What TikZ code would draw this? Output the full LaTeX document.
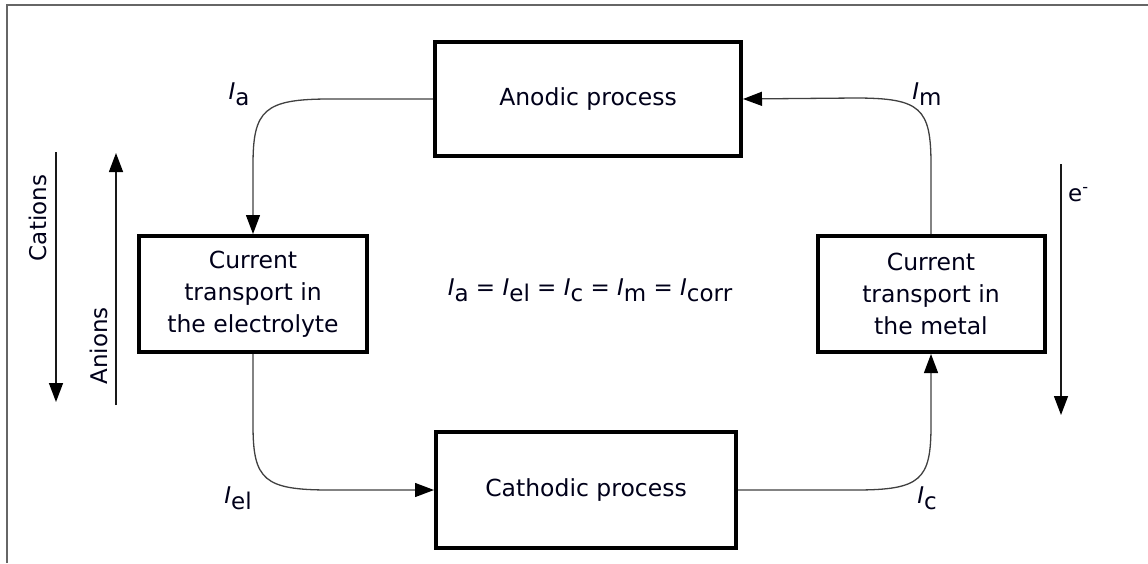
\documentclass[tikz,border=0pt]{standalone}
\usepackage{fontspec}
\setmainfont{DejaVu Sans}
\usetikzlibrary{arrows.meta}
\newcommand{\Isub}[1]{\textit{I}\raisebox{-0.5ex}{#1}}
\tikzset{
  box/.style={draw=black, line width=4pt, align=center, inner sep=0pt,
    font=\fontsize{23.5}{32}\selectfont, text=black!90!blue},
  lbl/.style={font=\fontsize{23}{26}\selectfont, text=black!90!blue, inner sep=0pt},
  conn/.style={draw=black!75, line width=1.3pt, -{Triangle[length=19pt,width=14pt,color=black]}},
  ionarrow/.style={draw=black!90, line width=1.4pt, -{Triangle[length=19pt,width=14pt,color=black]}}
}
\begin{document}
\begin{tikzpicture}[x=1pt,y=-1pt]
\useasboundingbox (0,0) rectangle (1148,563);
\draw[black!60, line width=1.6pt] (7,563) -- (7,5) -- (1148,5);

\node[box, minimum width=306, minimum height=114] (an) at (588,99) {Anodic process};
\node[box, minimum width=228, minimum height=116] (el) at (253,294) {Current\\transport in\\the electrolyte};
\node[box, minimum width=227, minimum height=116] (me) at (931,294) {Current\\transport in\\the metal};
\node[box, minimum width=300, minimum height=116] (ca) at (586,490) {Cathodic process};

\node[lbl] (eq) at (590,290) {\Isub{a} = \Isub{el} = \Isub{c} = \Isub{m} = \Isub{corr}};

\node[lbl] (la) at (239,94) {\Isub{a}};
\node[lbl] (lm) at (927,94) {\Isub{m}};
\node[lbl] (lel) at (238,498) {\Isub{el}};
\node[lbl] (lc) at (927,498) {\Isub{c}};

\draw[conn] (an.west) -- (330,99) .. controls (264,99) and (253,110) .. (253,165) -- (el.north);
\draw[conn] (el.south) -- (253,425) .. controls (253,480) and (264,490) .. (330,490) -- (ca.west);
\draw[conn] (ca.east) -- (855,490) .. controls (921,490) and (931,480) .. (931,425) -- (me.south);
\draw[conn] (me.north) -- (931,165) .. controls (931,108) and (921,98) .. (855,98) -- (an.east);

\coordinate (c1) at (56,152);
\coordinate (c2) at (56,402);
\draw[ionarrow] (c1) -- (c2);
\node[lbl, rotate=90] (cat) at (38,218) {Cations};

\coordinate (a1) at (116,405);
\coordinate (a2) at (116,153);
\draw[ionarrow] (a1) -- (a2);
\node[lbl, rotate=90] (ani) at (99,346) {Anions};

\coordinate (e1) at (1061,164);
\coordinate (e2) at (1061,415);
\draw[ionarrow] (e1) -- (e2);
\node[lbl, anchor=west] (el2) at (1068,195) {e\textsuperscript{-}};
\end{tikzpicture}
\end{document}
